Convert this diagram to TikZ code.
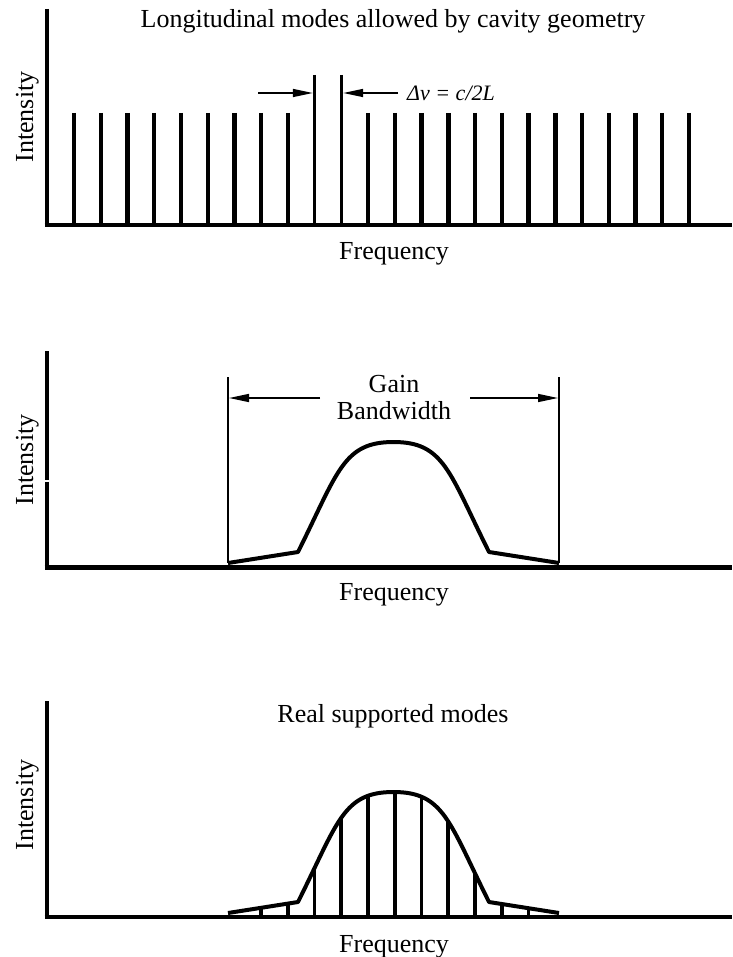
\documentclass[tikz,border=0pt]{standalone}
\usepackage{fontspec}
\setmainfont{Liberation Serif}
\usetikzlibrary{arrows.meta}
\begin{document}
\begin{tikzpicture}[x=1pt,y=-1pt,
  axis/.style={line width=4.6pt},
  modeline/.style={line width=4.4pt},
  gaincurve/.style={line width=4pt, line join=round},
  thinline/.style={line width=1.4pt},
  dimarrow/.style={line width=1.5pt, -{Triangle[length=20pt,width=8pt]}},
  lbl/.style={font=\fontsize{26}{30}\selectfont, inner sep=0pt},
  ylbl/.style={lbl, rotate=90, anchor=base}
]
\useasboundingbox (0,0) rectangle (732,957);

% ---------- Panel 1 ----------
\coordinate (a1t) at (47,9);
\coordinate (a1o) at (47,225);
\coordinate (a1r) at (732,225);
\draw[axis] (a1t) -- (a1o);
\draw[axis] ([xshift=-2.3pt]a1o) -- (a1r);
\foreach \k in {0,...,23}{
  \pgfmathsetmacro{\xx}{74+26.74*\k}
  \ifnum\k=9
    \draw[line width=3.6pt] (\xx,75) -- (\xx,225);
  \else\ifnum\k=10
    \draw[line width=3.6pt] (\xx,75) -- (\xx,225);
  \else
    \draw[modeline] (\xx,113) -- (\xx,225);
  \fi\fi
}
\coordinate (la) at (258,93);
\coordinate (lb) at (312.8,93);
\coordinate (ra) at (398,93);
\coordinate (rb) at (343.2,93);
\draw[dimarrow] (la) -- (lb);
\draw[dimarrow] (ra) -- (rb);
\node[inner sep=0pt, anchor=base west, font=\fontsize{22}{26}\selectfont\itshape] (dnu) at (407,101) {Δν = c/2L};
\node[lbl, anchor=base] (t1) at (393,28) {Longitudinal modes allowed by cavity geometry};
\node[lbl, anchor=base] (f1) at (394,260) {Frequency};
\node[ylbl] (i1) at (33,117) {Intensity};

% ---------- Panel 2 ----------
\coordinate (a2t) at (47,351);
\coordinate (a2g1) at (47,480.3);
\coordinate (a2g2) at (47,481.8);
\coordinate (a2o) at (47,567.5);
\coordinate (a2r) at (732,567.5);
\draw[axis] (a2t) -- (a2g1);
\draw[axis] (a2g2) -- (a2o);
\draw[axis] ([xshift=-2.3pt]a2o) -- (a2r);
\coordinate (gl) at (228,377);
\coordinate (gr) at (559,377);
\coordinate (gl0) at (228,563);
\coordinate (gr0) at (559,563);
\draw[thinline] (gl) -- (gl0);
\draw[thinline] (gr) -- (gr0);
\coordinate (gla) at (320,398);
\coordinate (glb) at (229,398);
\coordinate (gra) at (470,398);
\coordinate (grb) at (558,398);
\draw[dimarrow] (gla) -- (glb);
\draw[dimarrow] (gra) -- (grb);
\node[lbl, anchor=base] (gain) at (394,392) {Gain};
\node[lbl, anchor=base] (bw) at (394,419) {Bandwidth};
\draw[gaincurve] (gl0) -- (298,552) .. controls (338,472) and (343,442) .. (393.5,442)
   .. controls (444,442) and (449,472) .. (489,552) -- (gr0);
\node[lbl, anchor=base] (f2) at (394,600) {Frequency};
\node[ylbl] (i2) at (33,460) {Intensity};

% ---------- Panel 3 ----------
\coordinate (a3t) at (47,701);
\coordinate (a3o) at (47,917);
\coordinate (a3r) at (732,917);
\draw[axis] (a3t) -- (a3o);
\draw[axis] ([xshift=-2.3pt]a3o) -- (a3r);
\begin{scope}
  \clip (228,913) -- (298,902) .. controls (338,822) and (343,792) .. (393.5,792)
   .. controls (444,792) and (449,822) .. (489,902) -- (559,913) -- (559,917) -- (228,917) -- cycle;
  \foreach \k in {0,...,10}{
    \pgfmathsetmacro{\xx}{261+26.74*\k}
    \draw[line width=3.8pt] (\xx,917) -- (\xx,780);
  }
\end{scope}
\draw[gaincurve] (228,913) -- (298,902) .. controls (338,822) and (343,792) .. (393.5,792)
   .. controls (444,792) and (449,822) .. (489,902) -- (559,913);
\node[lbl, anchor=base] (t3) at (393,722) {Real supported modes};
\node[lbl, anchor=base] (f3) at (394,952) {Frequency};
\node[ylbl] (i3) at (33,805) {Intensity};
\end{tikzpicture}
\end{document}
